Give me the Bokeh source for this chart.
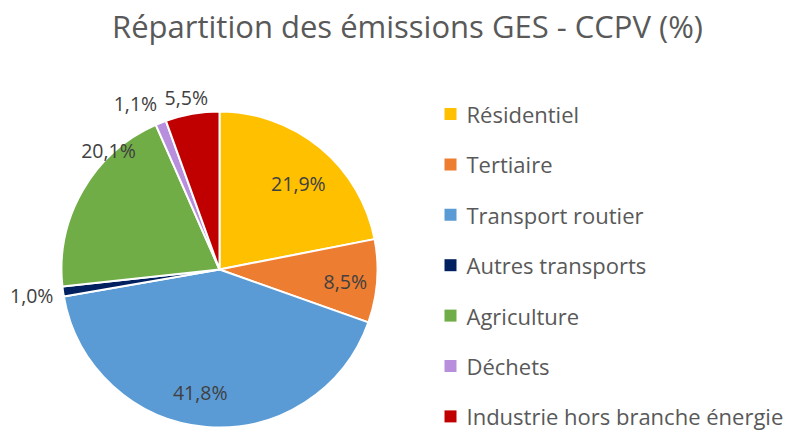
import math
from bokeh.plotting import figure
from bokeh.models import Range1d, ColumnDataSource
from bokeh.core.properties import value
from bokeh.embed import file_html
from bokeh.resources import INLINE

# ---- data ----
categories = ["Résidentiel", "Tertiaire", "Transport routier", "Autres transports",
              "Agriculture", "Déchets", "Industrie hors branche énergie"]
shares = [21.9, 8.5, 41.8, 1.0, 20.1, 1.1, 5.5]
colors = ["#FFC000", "#ED7D31", "#5B9BD5", "#002060", "#70AD47", "#B88FDD", "#C00000"]
title_text = "Répartition des émissions GES - CCPV (%)"

# ---- styling / layout ----
W, H = 806, 432
cx, cy, R = 219, H - 269, 158
label_r = [0.74, 0.80, 0.79, 1.20, 1.03, 1.18, 1.11]
label_dang = [3.0, 1.3, 4.0, 0.0, 17.0, -5.0, -1.0]  # degrees, clockwise offset
font = "Open Sans"
txt_color = "#595959"
lab_color = "#404040"

p = figure(width=W, height=H, x_range=Range1d(0, W), y_range=Range1d(0, H),
           output_backend="svg", toolbar_location=None, min_border=0)
p.axis.visible = False
p.grid.visible = False
p.outline_line_color = None
p.background_fill_color = "white"

total = sum(shares)
starts, ends, lx, ly, labels = [], [], [], [], []
acc = 0.0
for i, s in enumerate(shares):
    a0 = acc / total * 360.0
    acc += s
    a1 = acc / total * 360.0
    starts.append(math.radians(90 - a0))
    ends.append(math.radians(90 - a1))
    mid = (a0 + a1) / 2 + label_dang[i]
    th = math.radians(90 - mid)
    lx.append(cx + label_r[i] * R * math.cos(th))
    ly.append(cy + label_r[i] * R * math.sin(th))
    labels.append(f"{s:.1f}%".replace(".", ","))

src = ColumnDataSource(dict(start=starts, end=ends, color=colors, lx=lx, ly=ly, label=labels))
p.wedge(x=cx, y=cy, radius=R, start_angle="start", end_angle="end", direction="clock",
        fill_color="color", line_color="white", line_width=2, source=src)
p.text(x="lx", y="ly", text="label", source=src, text_align="center", text_baseline="middle",
       text_font=value(font), text_font_size="19.5px", text_color=lab_color)

# title
p.text(x=[W / 2 + 4], y=[H - 25], text=[title_text], text_align="center", text_baseline="middle",
       text_font=value(font), text_font_size="31px", text_color=txt_color)

# legend
leg_x, row0, leg_dy = 450, 113.5, 50.4
row_ys = [H - (row0 + i * leg_dy) for i in range(len(categories))]
lsrc = ColumnDataSource(dict(x=[leg_x] * len(categories), tx=[leg_x + 16] * len(categories),
                             y=row_ys, name=categories, color=colors))
p.scatter(x="x", y="y", marker="square", size=12, fill_color="color", line_color=None, source=lsrc)
p.text(x="tx", y="y", text="name", source=lsrc, text_align="left", text_baseline="middle",
       text_font=value(font), text_font_size="22px", text_color=txt_color)

open("out.html", "w").write(file_html(p, INLINE))
